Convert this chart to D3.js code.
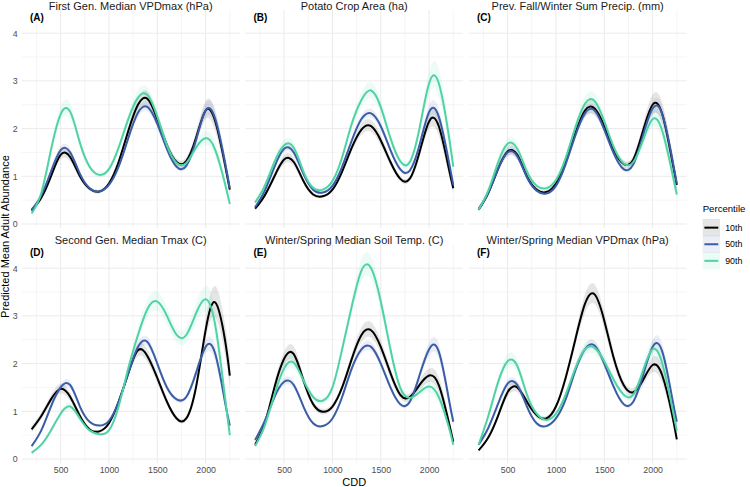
<!DOCTYPE html>
<html>
<head>
<meta charset="utf-8">
<script src="https://cdnjs.cloudflare.com/ajax/libs/d3/7.8.5/d3.min.js"></script>
<style>
  body { margin: 0; background: #fff; }
  svg { display: block; font-family: "Liberation Sans", Arial, Helvetica, sans-serif; }
</style>
</head>
<body>
<div id="chart"></div>
<script>
// CDD grid the fitted curves are read at
const cdd = [200, 300, 400, 500, 600, 700, 800, 900, 1000, 1100, 1200, 1300, 1400, 1500, 1600, 1700, 1800, 1900, 2000, 2100, 2200, 2250];

const percentiles = ["10th", "50th", "90th"];
const lineColors = ["#000000", "#3a5da7", "#4fd3a4"];

const panelTitles = [
    "First Gen. Median VPDmax (hPa)",
    "Potato Crop Area (ha)",
    "Prev. Fall/Winter Sum Precip. (mm)",
    "Second Gen. Median Tmax (C)",
    "Winter/Spring Median Soil Temp. (C)",
    "Winter/Spring Median VPDmax (hPa)"
];
const panelTags = ["(A)", "(B)", "(C)", "(D)", "(E)", "(F)"];

// predicted mean adult abundance, one row per percentile (10th, 50th, 90th)
const panelA = [
    [0.28, 0.55, 1.0, 1.45, 1.4, 1.0, 0.74, 0.68, 0.85, 1.3, 1.95, 2.5, 2.62, 2.2, 1.65, 1.3, 1.32, 1.8, 2.38, 2.15, 1.25, 0.72],
    [0.3, 0.6, 1.1, 1.55, 1.5, 1.05, 0.75, 0.68, 0.82, 1.2, 1.8, 2.33, 2.45, 2.1, 1.57, 1.2, 1.22, 1.75, 2.38, 2.2, 1.3, 0.75],
    [0.22, 0.65, 1.55, 2.3, 2.35, 1.7, 1.2, 1.03, 1.15, 1.6, 2.2, 2.65, 2.7, 2.25, 1.65, 1.28, 1.28, 1.6, 1.8, 1.55, 0.85, 0.42]
];
const panelB = [
    [0.32, 0.6, 1.0, 1.35, 1.3, 0.9, 0.62, 0.58, 0.72, 1.1, 1.6, 1.98, 2.05, 1.75, 1.3, 0.95, 0.95, 1.5, 2.15, 2.05, 1.2, 0.75],
    [0.35, 0.7, 1.2, 1.58, 1.5, 1.05, 0.72, 0.66, 0.8, 1.2, 1.75, 2.2, 2.32, 2.05, 1.55, 1.15, 1.12, 1.65, 2.35, 2.25, 1.35, 0.82],
    [0.45, 0.8, 1.3, 1.65, 1.6, 1.1, 0.76, 0.72, 0.9, 1.4, 2.1, 2.6, 2.8, 2.45, 1.8, 1.32, 1.3, 2.0, 2.95, 2.95, 1.9, 1.2]
];
const panelC = [
    [0.3, 0.65, 1.15, 1.52, 1.45, 1.0, 0.72, 0.67, 0.85, 1.3, 1.9, 2.38, 2.42, 2.05, 1.55, 1.26, 1.35, 1.95, 2.5, 2.3, 1.35, 0.82],
    [0.32, 0.66, 1.15, 1.5, 1.42, 0.98, 0.7, 0.64, 0.8, 1.25, 1.85, 2.32, 2.38, 1.98, 1.47, 1.15, 1.25, 1.85, 2.42, 2.3, 1.4, 0.85],
    [0.3, 0.7, 1.28, 1.68, 1.58, 1.1, 0.8, 0.75, 0.92, 1.38, 2.02, 2.52, 2.58, 2.15, 1.6, 1.27, 1.3, 1.75, 2.2, 1.95, 1.1, 0.62]
];
const panelD = [
    [0.62, 0.9, 1.25, 1.47, 1.3, 0.9, 0.62, 0.58, 0.75, 1.2, 1.8, 2.28, 2.15, 1.7, 1.2, 0.85, 0.85, 1.5, 2.7, 3.28, 2.5, 1.75],
    [0.27, 0.6, 1.1, 1.5, 1.55, 1.1, 0.78, 0.7, 0.8, 1.2, 1.8, 2.35, 2.45, 2.0, 1.5, 1.25, 1.3, 1.8, 2.35, 2.2, 1.2, 0.7],
    [0.13, 0.3, 0.6, 0.95, 1.1, 0.85, 0.6, 0.52, 0.6, 1.1, 1.9, 2.6, 3.15, 3.3, 3.0, 2.6, 2.6, 3.05, 3.35, 2.8, 1.3, 0.5]
];
const panelE = [
    [0.3, 0.75, 1.5, 2.1, 2.2, 1.65, 1.15, 0.99, 1.1, 1.5, 2.1, 2.6, 2.7, 2.35, 1.8, 1.35, 1.3, 1.55, 1.75, 1.55, 0.8, 0.36],
    [0.4, 0.8, 1.3, 1.62, 1.55, 1.1, 0.75, 0.69, 0.85, 1.3, 1.9, 2.3, 2.35, 2.0, 1.5, 1.15, 1.2, 1.75, 2.3, 2.25, 1.3, 0.78],
    [0.27, 0.7, 1.35, 1.9, 2.02, 1.65, 1.3, 1.22, 1.5, 2.3, 3.2, 3.95, 4.0, 3.3, 2.3, 1.5, 1.28, 1.4, 1.52, 1.3, 0.7, 0.3]
];
const panelF = [
    [0.18, 0.45, 0.9, 1.4, 1.5, 1.2, 0.92, 0.85, 1.1, 1.7, 2.5, 3.25, 3.45, 2.9, 2.1, 1.55, 1.4, 1.65, 1.97, 1.75, 0.95, 0.41],
    [0.3, 0.65, 1.15, 1.58, 1.55, 1.1, 0.75, 0.69, 0.85, 1.25, 1.85, 2.3, 2.38, 2.0, 1.5, 1.15, 1.2, 1.75, 2.35, 2.25, 1.3, 0.78],
    [0.3, 0.9, 1.6, 2.05, 1.95, 1.35, 0.95, 0.82, 0.95, 1.35, 1.9, 2.3, 2.33, 2.05, 1.65, 1.35, 1.35, 1.85, 2.3, 2.0, 1.1, 0.6]
];
const panels = [panelA, panelB, panelC, panelD, panelE, panelF];

// relative half-width of the confidence ribbon (log scale), per percentile
const ribbonSE = [
    [0.12, 0.08, 0.07, 0.07, 0.07, 0.06, 0.06, 0.06, 0.05, 0.05, 0.05, 0.06, 0.06, 0.06, 0.06, 0.06, 0.06, 0.07, 0.08, 0.1, 0.13, 0.16],
    [0.08, 0.06, 0.05, 0.05, 0.05, 0.04, 0.04, 0.04, 0.04, 0.04, 0.04, 0.04, 0.04, 0.04, 0.04, 0.04, 0.04, 0.05, 0.06, 0.07, 0.09, 0.11],
    [0.12, 0.08, 0.07, 0.07, 0.07, 0.06, 0.06, 0.06, 0.05, 0.05, 0.05, 0.06, 0.06, 0.06, 0.06, 0.06, 0.06, 0.07, 0.08, 0.1, 0.13, 0.16]
];

const xMajor = [500, 1000, 1500, 2000];
const xMinor = [250, 750, 1250, 1750, 2250];
const yMajor = [0, 1, 2, 3, 4];
const yMinor = [0.5, 1.5, 2.5, 3.5];

const width = 750, height = 487;
const panelW = 218, panelH = 218.5;
const colX = [21.7, 245.2, 468.7];
const rowY = [9.8, 244.8];

const svg = d3.select("#chart")
    .append("svg")
    .attr("width", width)
    .attr("height", height);

const x = d3.scaleLinear().domain([97.5, 2352.5]).range([0, panelW]);
const y = d3.scaleLinear().domain([-0.09, 4.49]).range([panelH, 0]);

const line = d3.line()
    .x(d => x(d.x))
    .y(d => y(d.v))
    .curve(d3.curveNatural);

const area = d3.area()
    .x(d => x(d.x))
    .y0(d => y(d.lo))
    .y1(d => y(d.hi))
    .curve(d3.curveNatural);

panels.forEach((series, p) => {
    const col = p % 3, row = Math.floor(p / 3);
    const g = svg.append("g")
        .attr("transform", `translate(${colX[col]},${rowY[row]})`);

    // grid
    g.selectAll(".xminor").data(xMinor).join("line")
        .attr("x1", d => x(d)).attr("x2", d => x(d))
        .attr("y1", 0).attr("y2", panelH)
        .attr("stroke", "#ebebeb").attr("stroke-width", 0.5);
    g.selectAll(".yminor").data(yMinor).join("line")
        .attr("x1", 0).attr("x2", panelW)
        .attr("y1", d => y(d)).attr("y2", d => y(d))
        .attr("stroke", "#ebebeb").attr("stroke-width", 0.5);
    g.selectAll(".xmajor").data(xMajor).join("line")
        .attr("x1", d => x(d)).attr("x2", d => x(d))
        .attr("y1", 0).attr("y2", panelH)
        .attr("stroke", "#ebebeb").attr("stroke-width", 1);
    g.selectAll(".ymajor").data(yMajor).join("line")
        .attr("x1", 0).attr("x2", panelW)
        .attr("y1", d => y(d)).attr("y2", d => y(d))
        .attr("stroke", "#ebebeb").attr("stroke-width", 1);

    const rows = series.map((vals, i) => vals.map((v, j) => ({
        x: cdd[j], v: v,
        lo: v * Math.exp(-ribbonSE[i][j]),
        hi: v * Math.exp(ribbonSE[i][j])
    })));

    // ribbons first, then lines
    rows.forEach((r, i) => {
        g.append("path")
            .attr("d", area(r))
            .attr("fill", lineColors[i])
            .attr("fill-opacity", 0.1);
    });
    rows.forEach((r, i) => {
        g.append("path")
            .attr("d", line(r))
            .attr("fill", "none")
            .attr("stroke", lineColors[i])
            .attr("stroke-width", 2);
    });

    // strip title
    svg.append("text")
        .attr("x", colX[col] + panelW / 2)
        .attr("y", row === 0 ? 9.6 : rowY[row] - 1.2)
        .attr("text-anchor", "middle")
        .attr("font-size", 11)
        .attr("fill", "#1a1a1a")
        .text(panelTitles[p]);

    // tag
    g.append("text")
        .attr("x", 8.3)
        .attr("y", 11)
        .attr("font-size", 10)
        .attr("font-weight", "bold")
        .attr("fill", "#000")
        .text(panelTags[p]);

    if (col === 0) {
        g.append("g")
            .call(d3.axisLeft(y).tickValues(yMajor).tickSize(0).tickPadding(4).tickFormat(d3.format("d")))
            .call(a => a.select(".domain").remove())
            .selectAll("text")
            .attr("font-size", 8.8)
            .attr("font-family", "Liberation Sans, Arial, sans-serif")
            .attr("fill", "#4d4d4d");
    }
    if (row === 1) {
        g.append("g")
            .attr("transform", `translate(0,${panelH})`)
            .call(d3.axisBottom(x).tickValues(xMajor).tickSize(0).tickPadding(3.5).tickFormat(d3.format("d")))
            .call(a => a.select(".domain").remove())
            .selectAll("text")
            .attr("font-size", 8.8)
            .attr("font-family", "Liberation Sans, Arial, sans-serif")
            .attr("fill", "#4d4d4d");
    }
});

// axis titles
svg.append("text")
    .attr("x", (colX[0] + colX[2] + panelW) / 2)
    .attr("y", 486)
    .attr("text-anchor", "middle")
    .attr("font-size", 11)
    .attr("fill", "#000")
    .text("CDD");

svg.append("text")
    .attr("transform", `translate(9,${(rowY[0] + rowY[1] + panelH) / 2}) rotate(-90)`)
    .attr("text-anchor", "middle")
    .attr("font-size", 11)
    .attr("fill", "#000")
    .text("Predicted Mean Adult Abundance");

// legend
const legend = svg.append("g").attr("transform", "translate(702.7,199)");
legend.append("text")
    .attr("x", 0).attr("y", 12.5)
    .attr("font-size", 9.6)
    .attr("fill", "#000")
    .text("Percentile");

percentiles.forEach((p, i) => {
    const ky = 20 + i * 16.6;
    legend.append("rect")
        .attr("x", 0).attr("y", ky)
        .attr("width", 17.3).attr("height", 17.3)
        .attr("fill", lineColors[i]).attr("fill-opacity", 0.1);
    legend.append("line")
        .attr("x1", 1.7).attr("x2", 15.6)
        .attr("y1", ky + 8.65).attr("y2", ky + 8.65)
        .attr("stroke", lineColors[i]).attr("stroke-width", 2);
    legend.append("text")
        .attr("x", 22.5).attr("y", ky + 8.65)
        .attr("dy", "0.35em")
        .attr("font-size", 8.8)
        .attr("fill", "#000")
        .text(p);
});
</script>
</body>
</html>
